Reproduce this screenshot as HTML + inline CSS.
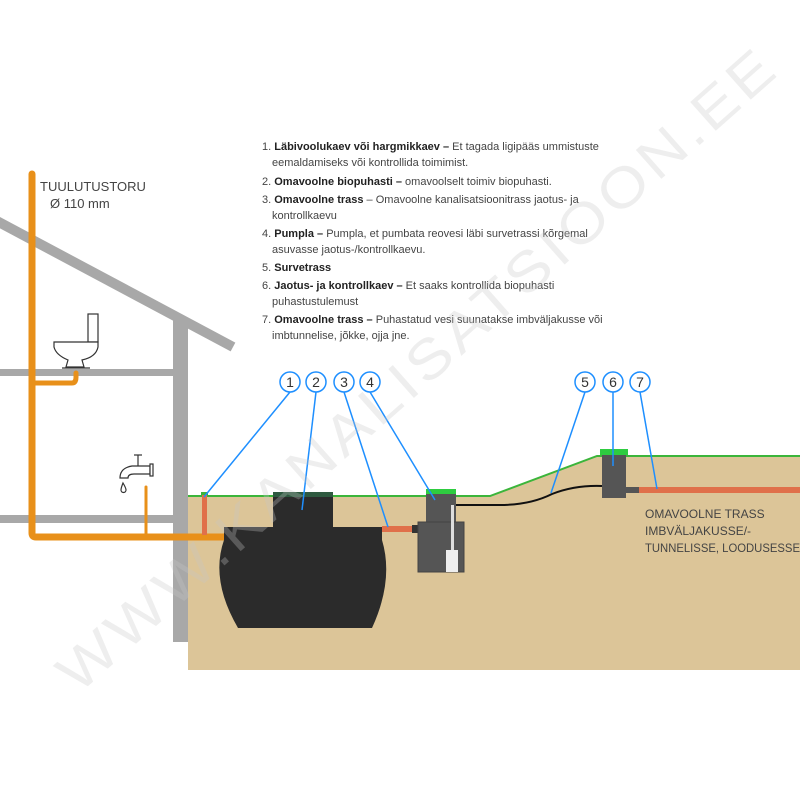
<!DOCTYPE html>
<html><head><meta charset="utf-8"><style>
body{margin:0;background:#fff}
svg{display:block}
text{font-family:"Liberation Sans",sans-serif}
</style></head><body>
<svg width="800" height="800" viewBox="0 0 800 800">
<!-- house -->
<line x1="-5" y1="220" x2="233" y2="347" stroke="#a8a8a8" stroke-width="10"/>
<rect x="173" y="318" width="15" height="324" fill="#a8a8a8"/>
<rect x="0" y="369" width="175" height="7" fill="#a8a8a8"/>
<rect x="0" y="515" width="175" height="8" fill="#a8a8a8"/>
<!-- ground -->
<polygon points="188,496 490,496 597,456 800,456 800,670 188,670" fill="#dcc598"/>
<polyline points="188,496 490,496 597,456 800,456" fill="none" stroke="#3bb53b" stroke-width="2"/>
<!-- vent pipe -->
<g stroke="#e8901a" stroke-linecap="round" fill="none">
<path d="M32 174 V533 Q32 537 36 537 H224" stroke-width="7"/>
<path d="M34 383 H72 Q76 383 76 377 V373" stroke-width="5"/>
<line x1="146" y1="487" x2="146" y2="535" stroke-width="3"/>
</g>
<!-- toilet -->
<g fill="#fff" stroke="#333" stroke-width="1.2">
<rect x="88" y="314" width="10" height="28"/>
<path d="M54 342 H98 V347 Q96 357 82 360 L84 367 H66 L68 360 Q56 355 54 347Z"/>
<line x1="62" y1="368" x2="90" y2="368"/>
</g>
<!-- faucet -->
<g fill="#fff" stroke="#333" stroke-width="1.2">
<path d="M120 478 Q120 468 132 466 H150 V474 H134 Q128 474 128 478Z"/>
<rect x="150" y="464" width="3" height="12"/>
<line x1="134" y1="455" x2="142" y2="455"/><line x1="138" y1="455" x2="138" y2="466"/>
<path d="M123 483 Q126 488 126 490 A2.5 2.5 0 0 1 121 490 Q121 488 123 483Z"/>
</g>
<!-- pipe 1 -->
<rect x="202" y="495" width="5" height="40" fill="#e0704a"/>
<rect x="201" y="492" width="7" height="3" fill="#3bb53b"/>
<!-- tank -->
<path d="M273 494 H333 V527 H382 V540 Q394 580 372 628 H238 Q210 580 224 540 V527 H273Z" fill="#2b2b2b"/>
<rect x="273" y="492" width="60" height="5" fill="#2f5a40"/>
<!-- pipe 3 -->
<rect x="382" y="526" width="32" height="6" fill="#e0704a"/>
<rect x="412" y="525" width="10" height="8" fill="#333"/>
<!-- pumpla -->
<rect x="426" y="494" width="30" height="30" fill="#555"/>
<rect x="418" y="522" width="46" height="50" fill="#555" stroke="#444"/>
<rect x="426" y="489" width="30" height="5" fill="#2ecc40"/>
<rect x="451" y="505" width="3" height="45" fill="#ddd"/>
<rect x="446" y="550" width="12" height="22" fill="#eee"/>
<!-- survetrass -->
<path d="M456 505 H500 Q530 505 552 494 Q575 485 602 486" fill="none" stroke="#111" stroke-width="2"/>
<!-- box 6 -->
<rect x="602" y="455" width="24" height="43" fill="#555"/>
<rect x="600" y="449" width="28" height="6" fill="#2ecc40"/>
<rect x="626" y="487" width="13" height="6" fill="#555"/>
<rect x="639" y="487" width="161" height="6" fill="#e0704a"/>
<text x="645" y="518" font-size="12" fill="#444">OMAVOOLNE TRASS</text>
<text x="645" y="535" font-size="12" fill="#444">IMBVÄLJAKUSSE/-</text>
<text x="645" y="552" font-size="12" fill="#444" textLength="155" lengthAdjust="spacingAndGlyphs">TUNNELISSE, LOODUSESSE</text>
<!-- leaders -->
<g stroke="#1e8fff" stroke-width="1.5" fill="#fff">
<line x1="290" y1="392" x2="204" y2="497"/>
<line x1="316" y1="392" x2="302" y2="510"/>
<line x1="344" y1="392" x2="388" y2="527"/>
<line x1="370" y1="392" x2="435" y2="500"/>
<line x1="585" y1="392" x2="551" y2="493"/>
<line x1="613" y1="392" x2="613" y2="466"/>
<line x1="640" y1="392" x2="657" y2="489"/>
<circle cx="290" cy="382" r="10"/><circle cx="316" cy="382" r="10"/><circle cx="344" cy="382" r="10"/><circle cx="370" cy="382" r="10"/>
<circle cx="585" cy="382" r="10"/><circle cx="613" cy="382" r="10"/><circle cx="640" cy="382" r="10"/>
</g>
<g font-size="14" fill="#333" text-anchor="middle">
<text x="290" y="387">1</text><text x="316" y="387">2</text><text x="344" y="387">3</text><text x="370" y="387">4</text>
<text x="585" y="387">5</text><text x="613" y="387">6</text><text x="640" y="387">7</text>
</g>
<text x="40" y="191" font-size="13" fill="#444">TUULUTUSTORU</text>
<text x="50" y="208" font-size="13" fill="#444">Ø 110 mm</text>
<!-- list -->
<g font-size="11" fill="#444">
<text x="262" y="150">1. <tspan font-weight="bold" fill="#222">Läbivoolukaev või hargmikkaev –</tspan> Et tagada ligipääs ummistuste</text>
<text x="272" y="166">eemaldamiseks või kontrollida toimimist.</text>
<text x="262" y="185">2. <tspan font-weight="bold" fill="#222">Omavoolne biopuhasti –</tspan>  omavoolselt toimiv biopuhasti.</text>
<text x="262" y="203">3. <tspan font-weight="bold" fill="#222">Omavoolne trass</tspan> – Omavoolne kanalisatsioonitrass jaotus- ja</text>
<text x="272" y="219">kontrollkaevu</text>
<text x="262" y="237">4. <tspan font-weight="bold" fill="#222">Pumpla –</tspan> Pumpla, et pumbata reovesi läbi survetrassi kõrgemal</text>
<text x="272" y="253">asuvasse jaotus-/kontrollkaevu.</text>
<text x="262" y="271">5. <tspan font-weight="bold" fill="#222">Survetrass</tspan></text>
<text x="262" y="289">6. <tspan font-weight="bold" fill="#222">Jaotus- ja kontrollkaev –</tspan> Et saaks kontrollida biopuhasti</text>
<text x="272" y="305">puhastustulemust</text>
<text x="262" y="323">7. <tspan font-weight="bold" fill="#222">Omavoolne trass –</tspan> Puhastatud vesi suunatakse imbväljakusse või</text>
<text x="272" y="339">imbtunnelise, jõkke, ojja jne.</text>
</g>
<!-- watermark -->
<text x="0" y="0" font-size="56" fill="#c8c8c8" fill-opacity="0.3" letter-spacing="4" transform="translate(78,695) rotate(-41.5)" textLength="940" lengthAdjust="spacingAndGlyphs">WWW.KANALISATSIOON.EE</text>
</svg>
</body></html>
